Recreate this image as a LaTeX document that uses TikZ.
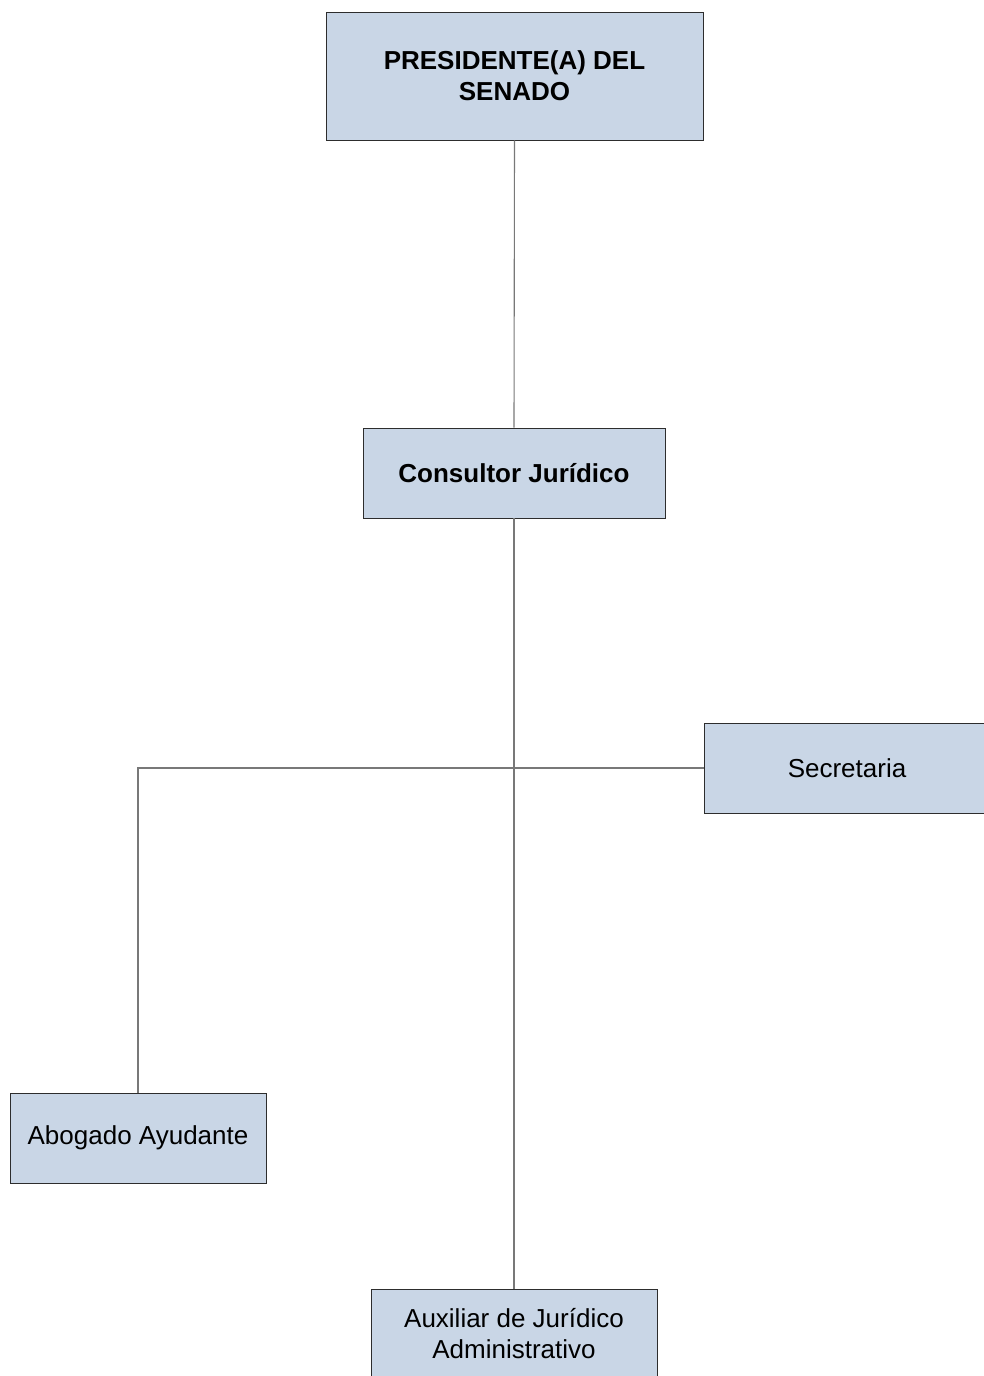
\documentclass[tikz,border=0pt]{standalone}
\usepackage{fontspec}
\setmainfont{Liberation Sans}
\definecolor{boxfill}{RGB}{201,214,230}
\definecolor{boxline}{RGB}{45,45,45}
\definecolor{linkline}{RGB}{120,120,120}
\begin{document}
\begin{tikzpicture}[x=1pt,y=-1pt,
  orgbox/.style={draw=boxline, line width=0.9pt, fill=boxfill, align=center,
    inner sep=0pt, font=\fontsize{26}{31}\selectfont},
  link/.style={draw=linkline, line width=1.1pt}]
  \useasboundingbox (0,0) rectangle (984,1376);
  \clip (0,0) rectangle (984,1376);

  % boxes of the organisation chart
  \node[orgbox, minimum width=377pt, minimum height=128pt, font=\fontsize{26}{31}\selectfont\bfseries]
    (pres) at (514.5,76) {PRESIDENTE(A) DEL\\SENADO};
  \node[orgbox, minimum width=302pt, minimum height=90pt, font=\fontsize{26}{31}\selectfont\bfseries]
    (cons) at (514,473) {Consultor Jurídico};
  \node[orgbox, minimum width=286pt, minimum height=90pt] (sec) at (847,768) {Secretaria};
  \node[orgbox, minimum width=256pt, minimum height=90pt] (abog) at (138,1138) {Abogado Ayudante};
  \node[orgbox, minimum width=286pt, minimum height=90pt] (aux) at (514,1334)
    {Auxiliar de Jurídico\\Administrativo};

  % reporting lines
  \draw[link] (pres.south) -- (cons.north);
  \draw[link] (cons.south) -- (aux.north);
  \draw[link] (abog.north) |- (sec.west);
\end{tikzpicture}
\end{document}
